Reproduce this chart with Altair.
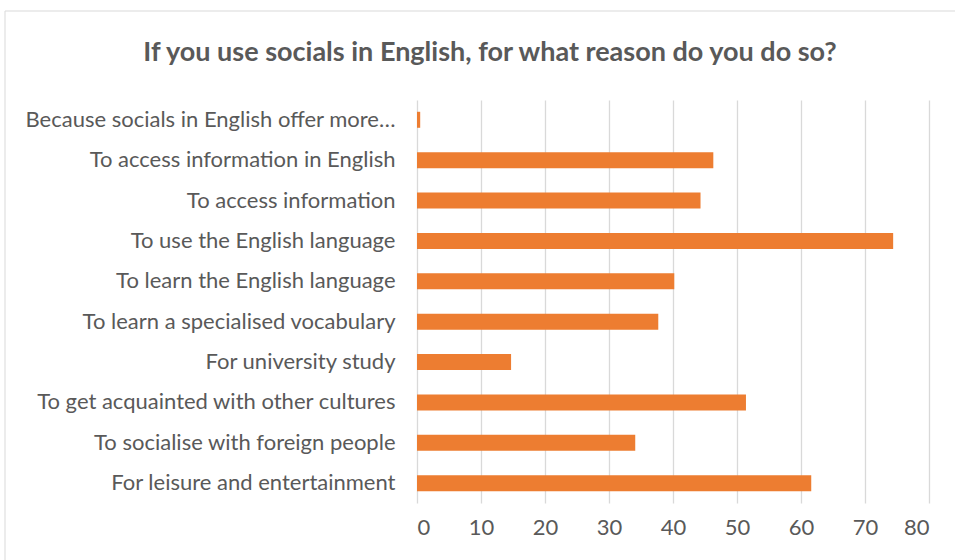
import altair as alt
import pandas as pd

categories = [
    "Because socials in English offer more…",
    "To access information in English",
    "To access information",
    "To use the English language",
    "To learn the English language",
    "To learn a specialised vocabulary",
    "For university study",
    "To get acquainted with other cultures",
    "To socialise with foreign people",
    "For leisure and entertainment",
]
values = [0.5, 46.3, 44.3, 74.4, 40.2, 37.7, 14.7, 51.4, 34.1, 61.6]
x_ticks = [0, 10, 20, 30, 40, 50, 60, 70, 80]

df = pd.DataFrame({"reason": categories, "value": values})

FONT = "Lato"
GREY = "#595959"

bars = alt.Chart(df).mark_bar(color="#ED7D31", height=16).encode(
    x=alt.X("value:Q",
            scale=alt.Scale(domain=[0, 80], nice=False),
            axis=alt.Axis(values=x_ticks, title=None, domain=False, ticks=False,
                          labelPadding=14, labelFontSize=22, labelColor=GREY,
                          labelFont=FONT, gridColor="#D9D9D9", gridWidth=1.3)),
    y=alt.Y("reason:N", sort=categories,
            scale=alt.Scale(paddingInner=0.6, paddingOuter=0.29),
            axis=alt.Axis(title=None, domain=False, ticks=False, labelPadding=22,
                          labelFontSize=22, labelColor=GREY, labelFont=FONT,
                          labelLimit=500)),
)

frame = alt.Chart(pd.DataFrame({"a": [0]})).mark_rect(
    fill=None, stroke="#D9D9D9", strokeWidth=1
).encode(
    x=alt.value(-412), x2=alt.value(543), y=alt.value(-89), y2=alt.value(465)
)

chart = alt.layer(frame, bars).properties(
    width=512,
    height=403,
    background="white",
    title=alt.TitleParams(
        "If you use socials in English, for what reason do you do so?",
        font=FONT, fontSize=27, fontWeight="bold", color=GREY,
        anchor="middle", frame="group", dx=-183, offset=-56,
    ),
    autosize=alt.AutoSizeParams(type="none"),
    padding={"left": 417, "top": 100, "right": 26, "bottom": 57},
).configure_view(stroke=None)

chart.save("out.html", embed_options={"renderer": "svg", "actions": False})
